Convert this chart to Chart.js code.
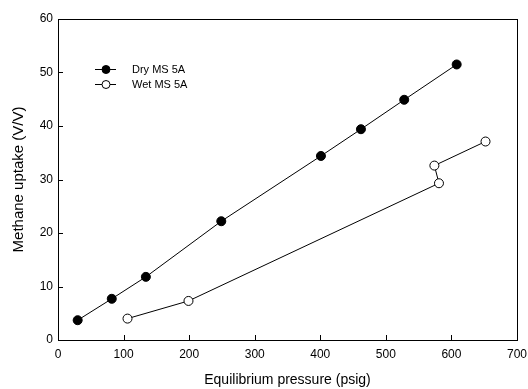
<!DOCTYPE html>
<html><head><meta charset="utf-8">
<script src="https://cdn.jsdelivr.net/npm/chart.js@4"></script>
<style>html,body{margin:0;padding:0;background:#fff}</style>
</head><body>
<canvas id="c" width="528" height="389" style="width:528px;height:389px;display:block"></canvas>
<script>
const dryPressure = [30, 82, 134, 249, 401, 462, 528, 608];
const dryUptake   = [3.7, 7.7, 11.8, 22.2, 34.4, 39.4, 44.9, 51.5];
const wetPressure = [106, 199, 581, 574, 652];
const wetUptake   = [4.0, 7.3, 29.3, 32.6, 37.1];
const seriesNames = ['Dry MS 5A', 'Wet MS 5A'];
const xTickValues = [0, 100, 200, 300, 400, 500, 600, 700];
const yTickValues = [0, 10, 20, 30, 40, 50, 60];
const xTitle = 'Equilibrium pressure (psig)';
const yTitle = 'Methane uptake (V/V)';

const FONT = '"Liberation Sans", Arial, sans-serif';
const toXY = (xs, ys) => xs.map((x, i) => ({x: x, y: ys[i]}));

const boxAndTicks = {
  id: 'boxAndTicks',
  afterDraw(chart) {
    const {ctx, chartArea: a, scales: {x, y}} = chart;
    ctx.save();
    ctx.strokeStyle = '#000';
    ctx.lineWidth = 1;
    ctx.strokeRect(Math.round(a.left) + 0.5, Math.round(a.top) + 0.5,
                   Math.round(a.right - a.left), Math.round(a.bottom - a.top));
    ctx.beginPath();
    xTickValues.forEach(v => {
      const px = Math.round(x.getPixelForValue(v)) + 0.5;
      ctx.moveTo(px, a.bottom); ctx.lineTo(px, a.bottom - 5);
    });
    yTickValues.forEach(v => {
      const py = Math.round(y.getPixelForValue(v)) + 0.5;
      ctx.moveTo(a.left, py); ctx.lineTo(a.left + 5, py);
    });
    ctx.stroke();
    // legend
    const rows = [{name: seriesNames[0], fill: '#000'}, {name: seriesNames[1], fill: '#fff'}];
    const lx0 = a.left + 37, lx1 = a.left + 58, mx = a.left + 48, tx = a.left + 74;
    rows.forEach((r, i) => {
      const ry = a.top + 50 + i * 15;
      ctx.beginPath();
      ctx.moveTo(lx0, ry + 0.5); ctx.lineTo(lx1, ry + 0.5);
      ctx.stroke();
      ctx.beginPath();
      ctx.arc(mx, ry + 0.5, 4, 0, Math.PI * 2);
      ctx.fillStyle = r.fill; ctx.fill(); ctx.stroke();
      ctx.fillStyle = '#000';
      ctx.font = '11px ' + FONT;
      ctx.textBaseline = 'middle';
      ctx.textAlign = 'left';
      ctx.fillText(r.name, tx, ry + 1);
    });
    ctx.restore();
  }
};

new Chart(document.getElementById('c'), {
  type: 'scatter',
  data: {
    datasets: [
      {label: seriesNames[0], data: toXY(dryPressure, dryUptake), showLine: true,
       borderColor: '#000', borderWidth: 1, pointRadius: 4.5, pointBackgroundColor: '#000',
       pointBorderColor: '#000', pointBorderWidth: 1},
      {label: seriesNames[1], data: toXY(wetPressure, wetUptake), showLine: true,
       borderColor: '#000', borderWidth: 1, pointRadius: 4.5, pointBackgroundColor: '#fff',
       pointBorderColor: '#000', pointBorderWidth: 1}
    ]
  },
  options: {
    responsive: false, animation: false, devicePixelRatio: 1,
    layout: {padding: {top: 19, right: 11, left: 0, bottom: 0}},
    plugins: {legend: {display: false}, tooltip: {enabled: false}},
    scales: {
      x: {
        type: 'linear', min: 0, max: 700,
        afterFit: s => { s.height = 49; s.paddingLeft = 0; s.paddingRight = 0; },
        afterBuildTicks: s => { s.ticks = xTickValues.map(v => ({value: v})); },
        grid: {display: false, drawTicks: false}, border: {display: false},
        ticks: {padding: 7, color: '#000', font: {family: FONT, size: 12}, maxRotation: 0},
        title: {display: true, text: xTitle, color: '#000', font: {family: FONT, size: 14}, padding: {top: 0, bottom: 0}}
      },
      y: {
        type: 'linear', min: 0, max: 60,
        afterFit: s => { s.width = 58; s.paddingTop = 0; s.paddingBottom = 0; },
        afterBuildTicks: s => { s.ticks = yTickValues.map(v => ({value: v})); },
        grid: {display: false, drawTicks: false}, border: {display: false},
        ticks: {padding: 5, color: '#000', font: {family: FONT, size: 12}},
        title: {display: true, text: yTitle, color: '#000', font: {family: FONT, size: 15}, padding: {top: 10, bottom: 0}}
      }
    }
  },
  plugins: [boxAndTicks]
});
</script>
</body></html>
